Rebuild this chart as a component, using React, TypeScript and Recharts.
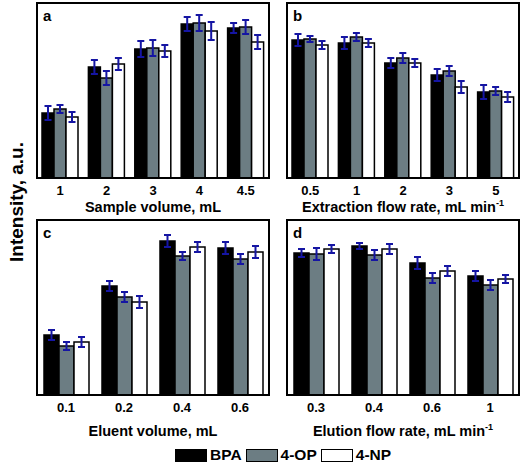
import { BarChart, Bar, XAxis, YAxis, ErrorBar } from 'recharts';

const series = ['BPA', '4-OP', '4-NP'];
const fills = ['#000000', '#6c7d83', '#ffffff'];
const ERR = '#1515a3';
const FONT = '"Liberation Sans", Arial, sans-serif';

// panel a - sample volume
const aCats = ['1', '2', '3', '4', '4.5'];
const aBpa = [65, 111, 129, 154, 150];
const aOp = [69, 100, 130, 155, 151];
const aNp = [61, 114, 127, 147, 136];
const aBpaErr = [7, 7, 8, 7, 5];
const aOpErr = [4, 7, 8, 8, 7];
const aNpErr = [5, 6, 6, 9, 7];

// panel b - extraction flow rate
const bCats = ['0.5', '1', '2', '3', '5'];
const bBpa = [138, 135, 115, 103, 86];
const bOp = [139, 141, 120, 107, 87];
const bNp = [133, 135, 115, 91, 81];
const bBpaErr = [6, 6, 5, 6, 7];
const bOpErr = [3, 4, 5, 5, 4];
const bNpErr = [4, 4, 4, 6, 5];

// panel c - eluent volume
const cCats = ['0.1', '0.2', '0.4', '0.6'];
const cBpa = [60, 109, 154, 147];
const cOp = [49, 98, 139, 136];
const cNp = [53, 93, 148, 143];
const cBpaErr = [5, 5, 6, 6];
const cOpErr = [4, 5, 4, 5];
const cNpErr = [5, 6, 5, 6];

// panel d - elution flow rate
const dCats = ['0.3', '0.4', '0.6', '1'];
const dBpa = [142, 149, 132, 119];
const dOp = [141, 140, 117, 110];
const dNp = [146, 146, 124, 116];
const dBpaErr = [4, 3, 6, 5];
const dOpErr = [6, 5, 5, 5];
const dNpErr = [4, 5, 5, 4];

const build = (cats: string[], v: number[][], e: number[][]) =>
    cats.map((c, i) => ({
        cat: c,
        s0: v[0][i], s1: v[1][i], s2: v[2][i],
        e0: e[0][i], e1: e[1][i], e2: e[2][i],
    }));

const AxisTitle = ({ viewBox, text, sup, off }: any) => {
    const { x, y, width } = viewBox;
    return (
        <text x={x + width / 2} y={y + off} textAnchor="middle" fontFamily={FONT} fontWeight="bold" fontSize={14.5} fill="#000">
            {text}
            {sup && <tspan dy={-6} fontSize={9}>{sup}</tspan>}
        </text>
    );
};

type PanelProps = {
    data: any[];
    letter: string;
    title: string;
    sup?: string;
    left: number;
    top: number;
    off: number;
};

const Panel = ({ data, letter, title, sup, left, top, off }: PanelProps) => {
    const gap = data.length === 5 ? 5 : 7;
    return (
        <div style={{ position: 'absolute', left, top }}>
            <BarChart
                width={236}
                height={226}
                data={data}
                margin={{ top: 1, right: 3, left: 1, bottom: 0 }}
                barGap={0}
                barCategoryGap={gap}
            >
                <XAxis
                    dataKey="cat"
                    height={50}
                    axisLine={false}
                    tickLine={false}
                    tick={{ fill: '#000', fontSize: 13, fontWeight: 'bold', fontFamily: FONT }}
                    interval={0}
                    label={<AxisTitle text={title} sup={sup} off={off} />}
                />
                <YAxis domain={[0, 175]} width={0} axisLine={false} tickLine={false} tick={false} />
                {series.map((s, i) => (
                    <Bar key={s} dataKey={`s${i}`} name={s} fill={fills[i]} stroke="#000" strokeWidth={1.5} isAnimationActive={false}>
                        <ErrorBar dataKey={`e${i}`} width={3.5} stroke={ERR} strokeWidth={2} />
                    </Bar>
                ))}
            </BarChart>
            {/* panel frame around the plot area */}
            <div style={{ position: 'absolute', left: 0, top: 0, width: 234, height: 177, border: '2.5px solid #000', boxSizing: 'border-box', pointerEvents: 'none' }} />
            <div style={{ position: 'absolute', left: 7, top: 5, fontFamily: FONT, fontWeight: 'bold', fontSize: 15 }}>{letter}</div>
        </div>
    );
};

export default function App() {
    return (
        <div style={{ position: 'relative', width: 520, height: 463, background: '#fff' }}>
            <style>{'body{margin:0}'}</style>
            <Panel data={build(aCats, [aBpa, aOp, aNp], [aBpaErr, aOpErr, aNpErr])} letter="a" title="Sample volume, mL" left={36} top={2} off={34} />
            <Panel data={build(bCats, [bBpa, bOp, bNp], [bBpaErr, bOpErr, bNpErr])} letter="b" title="Extraction flow rate, mL min" sup="-1" left={286} top={2} off={34} />
            <Panel data={build(cCats, [cBpa, cOp, cNp], [cBpaErr, cOpErr, cNpErr])} letter="c" title="Eluent volume, mL" left={36} top={219} off={41} />
            <Panel data={build(dCats, [dBpa, dOp, dNp], [dBpaErr, dOpErr, dNpErr])} letter="d" title="Elution flow rate, mL min" sup="-1" left={286} top={219} off={41} />
            <div
                style={{
                    position: 'absolute', left: 17, top: 202, transform: 'translate(-50%, -50%) rotate(-90deg)',
                    fontFamily: FONT, fontWeight: 'bold', fontSize: 19, whiteSpace: 'nowrap',
                }}
            >
                Intensity, a.u.
            </div>
            <div style={{ position: 'absolute', left: 175, top: 446, display: 'flex', alignItems: 'center', fontFamily: FONT, fontWeight: 'bold', fontSize: 15.5 }}>
                {series.map((s, i) => (
                    <span key={s} style={{ display: 'flex', alignItems: 'center', marginRight: 4 }}>
                        <span style={{ display: 'inline-block', width: 30, height: 11, background: fills[i], border: '1.5px solid #000', marginRight: 3 }} />
                        {s}
                    </span>
                ))}
            </div>
        </div>
    );
}
